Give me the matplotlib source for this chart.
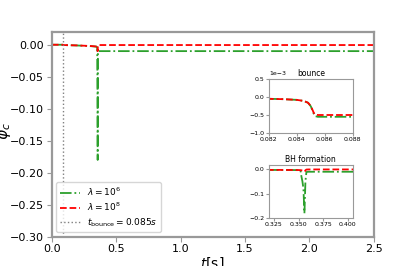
import numpy as np
import matplotlib.pyplot as plt

# time samples [s]
t = [0.0, 0.02, 0.04, 0.06, 0.08, 0.082, 0.083, 0.084, 0.0845, 0.0848,
     0.085, 0.0851, 0.0852, 0.0853, 0.0855, 0.086, 0.088, 0.1, 0.2, 0.3,
     0.33, 0.345, 0.35, 0.352, 0.353, 0.354, 0.355, 0.356, 0.3565, 0.357,
     0.358, 0.36, 0.38, 0.4, 1.0, 2.5]

# central potential, lambda = 1e6
phi_l6 = [0.0, -0.00001, -0.00002, -0.00003, -0.00004, -0.00005, -0.00006,
          -0.00008, -0.00011, -0.00016, -0.00026, -0.00036, -0.00046,
          -0.00053, -0.00055, -0.00055, -0.00055, -0.0006, -0.0012, -0.0022,
          -0.0027, -0.003, -0.0035, -0.005, -0.03, -0.05, -0.08, -0.18,
          -0.12, -0.05, -0.011, -0.01, -0.01, -0.01, -0.01, -0.01]

# central potential, lambda = 1e8
phi_l8 = [0.0, -0.00001, -0.00002, -0.00003, -0.00004, -0.00005, -0.00006,
          -0.00008, -0.00011, -0.00016, -0.00025, -0.00034, -0.00043,
          -0.00049, -0.0005, -0.0005, -0.0005, -0.00055, -0.0011, -0.002,
          -0.0025, -0.0028, -0.003, -0.0035, -0.004, -0.005, -0.007, -0.01,
          -0.008, -0.004, -0.001, -0.0005, -0.0005, -0.0005, -0.0005, -0.0005]

t_bounce = 0.085

plt.rcParams['axes.edgecolor'] = '#999999'
plt.rcParams['xtick.color'] = '#999999'
plt.rcParams['ytick.color'] = '#999999'
plt.rcParams['xtick.labelcolor'] = 'black'
plt.rcParams['ytick.labelcolor'] = 'black'

fig = plt.figure(figsize=(4.15, 2.66), dpi=100)
ax = fig.add_subplot(111)
for s in ax.spines.values():
    s.set_linewidth(1.6)

ax.plot(t, phi_l6, '-.', color='tab:green', lw=1.3, label=r'$\lambda = 10^6$')
ax.plot(t, phi_l8, '--', color='red', lw=1.3, label=r'$\lambda = 10^8$')
ax.axvline(t_bounce, ls=':', color='grey', lw=1.0,
           label=r'$t_{\rm bounce} = 0.085s$')
ax.set_xlim(0, 2.5)
ax.set_ylim(-0.30, 0.02)
ax.set_yticks(np.arange(-0.30, 0.001, 0.05))
ax.tick_params(labelsize=8, pad=2)
ax.set_xlabel(r'$t$[s]', fontsize=10)
ax.set_ylabel(r'$\varphi_c$', fontsize=11)
ax.xaxis.set_label_coords(0.5, -0.093)
ax.yaxis.set_label_coords(-0.121, 0.517)
ax.legend(loc='lower left', fontsize=6.5, handlelength=2.2, borderpad=0.4,
          labelspacing=0.3)

ins1 = fig.add_axes([0.648, 0.5, 0.202, 0.203])
ins1.plot(t, phi_l6, '-.', color='tab:green', lw=1.3)
ins1.plot(t, phi_l8, '--', color='red', lw=1.3)
ins1.set_xlim(0.082, 0.088)
ins1.set_ylim(-1e-3, 0.5e-3)
ins1.set_xticks([0.082, 0.084, 0.086, 0.088])
ins1.set_yticks([-1e-3, -0.5e-3, 0, 0.5e-3])
ins1.ticklabel_format(axis='y', style='sci', scilimits=(-3, -3))
ins1.tick_params(labelsize=4.5, length=2, pad=1)
ins1.yaxis.get_offset_text().set_fontsize(4.5)
ins1.set_title('bounce', fontsize=5.5, pad=2)

ins2 = fig.add_axes([0.648, 0.18, 0.202, 0.2])
ins2.plot(t, phi_l6, '-.', color='tab:green', lw=1.3)
ins2.plot(t, phi_l8, '--', color='red', lw=1.3)
ins2.set_xlim(0.32, 0.405)
ins2.set_ylim(-0.2, 0.018)
ins2.set_xticks([0.325, 0.35, 0.375, 0.4])
ins2.set_yticks([-0.2, -0.1, 0.0])
ins2.tick_params(labelsize=4.5, length=2, pad=1)
ins2.set_title('BH formation', fontsize=5.5, pad=2)

fig.savefig('out.png', dpi=100)
